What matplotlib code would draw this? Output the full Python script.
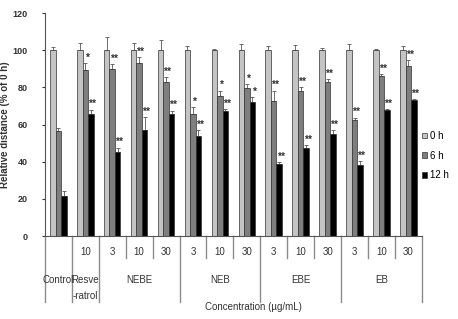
"""Relative wound distance bar chart (0 h / 6 h / 12 h)."""

import matplotlib

matplotlib.use("Agg")
import matplotlib.pyplot as plt
import matplotlib.transforms as mtransforms
import numpy as np
from matplotlib.patches import Patch

# groups, left to right
CONCS = ["", "10", "3", "10", "30", "3", "10", "30", "3", "10", "30", "3", "10", "30"]
TREATMENTS = ["Control", "Resve\n-ratrol", "NEBE", "NEB", "EBE", "EB"]
TREATMENT_SPAN = [(0, 0), (1, 1), (2, 4), (5, 7), (8, 10), (11, 13)]

VAL_0H = [100, 100, 100, 100, 100, 100, 100, 100, 100, 100, 100, 100, 100, 100]
ERR_0H = [1.5, 3.8, 7.0, 4.0, 5.5, 2.5, 0.5, 3.2, 2.2, 3.0, 1.0, 3.6, 0.5, 2.3]
VAL_6H = [56.4, 89.6, 89.8, 93.4, 82.7, 65.7, 75.5, 79.5, 72.9, 78.2, 82.7, 62.7, 86.3, 91.6]
ERR_6H = [1.8, 3.3, 2.7, 3.0, 2.7, 3.6, 2.7, 2.3, 5.3, 1.8, 1.8, 0.9, 0.8, 3.0]
VAL_12H = [21.4, 65.5, 45.2, 57.1, 65.7, 53.6, 67.5, 72.0, 38.6, 47.5, 55.0, 38.0, 67.9, 73.2]
ERR_12H = [2.9, 2.4, 2.3, 7.0, 1.8, 3.5, 0.9, 2.6, 1.2, 1.3, 2.1, 2.4, 0.5, 0.6]
SIG_6H = ["", "*", "**", "**", "**", "*", "*", "*", "**", "**", "**", "**", "**", "**"]
SIG_12H = ["", "**", "**", "**", "**", "**", "**", "*", "**", "**", "**", "**", "**", "**"]

SERIES = ["0 h", "6 h", "12 h"]
COLORS = ["#c4c4c4", "#7e7e7e", "#000000"]

plt.rcParams["font.family"] = ["Liberation Sans", "DejaVu Sans"]

fig = plt.figure(figsize=(4.58, 3.19), dpi=100)
ax = fig.add_axes([0.098, 0.26, 0.823, 0.699])

x = np.arange(len(CONCS))
width = 0.205
vals = [VAL_0H, VAL_6H, VAL_12H]
errs = [ERR_0H, ERR_6H, ERR_12H]
for k, (v, e, c) in enumerate(zip(vals, errs, COLORS)):
    xs = x + (k - 1) * width
    ax.bar(xs, v, width=width, color=c, edgecolor="#333333", linewidth=0.5, zorder=2)
    ax.errorbar(xs, v, yerr=[np.zeros(len(e)), e], fmt="none", ecolor="#555555",
                elinewidth=0.6, capsize=1.5, capthick=0.6, zorder=1)

for k, sig, v, e in [(1, SIG_6H, VAL_6H, ERR_6H), (2, SIG_12H, VAL_12H, ERR_12H)]:
    for i, s in enumerate(sig):
        if s:
            ax.text(x[i] + (k - 1) * width + 0.05, v[i] + e[i] + 3.0, s, ha="center",
                    va="center", fontsize=7.5, fontweight="bold", color="#333333")

ax.set_xlim(-0.5, len(CONCS) - 0.5)
ax.set_ylim(0, 120)
ax.set_yticks(np.arange(0, 121, 20))
ax.set_xticks([])
ax.tick_params(axis="y", length=2.5, width=0.8, labelsize=6.5, pad=10, colors="#333333")
for lab in ax.get_yticklabels():
    lab.set_fontweight("bold")
ax.spines["top"].set_visible(False)
ax.spines["right"].set_visible(False)
ax.spines["left"].set_color("#555555")
ax.spines["bottom"].set_color("#555555")
ax.set_ylabel("Relative distance (% of 0 h)", fontsize=7, fontweight="bold",
              color="#333333", labelpad=2)

# table under the axis
trans = mtransforms.blended_transform_factory(ax.transData, ax.transAxes)
line_kw = dict(color="#8c8c8c", lw=1.0, transform=trans, clip_on=False)
for lo, hi in TREATMENT_SPAN:
    ax.plot([lo - 0.5, lo - 0.5], [0, -0.296], **line_kw)
    for b in range(lo, hi):
        ax.plot([b + 0.5, b + 0.5], [0, -0.099], **line_kw)
ax.plot([len(CONCS) - 0.5] * 2, [0, -0.296], **line_kw)

for i, c in enumerate(CONCS):
    ax.text(x[i], -0.072, c, transform=trans, ha="center", va="center", fontsize=7,
            color="#333333")
for name, (lo, hi) in zip(TREATMENTS, TREATMENT_SPAN):
    ax.text((lo + hi) / 2, -0.175, name, transform=trans, ha="center", va="top",
            fontsize=7, color="#333333", linespacing=1.7)

fig.text(0.553, 0.022, "Concentration (\u00b5g/mL)", ha="center", va="bottom",
         fontsize=7, color="#333333")

handles = [Patch(facecolor=c, edgecolor="#333333", linewidth=0.5) for c in COLORS]
fig.legend(handles, SERIES, loc="upper left", bbox_to_anchor=(0.922, 0.59), frameon=False,
           fontsize=7, handlelength=0.5, handleheight=0.5, handletextpad=0.25,
           labelspacing=1.0, borderpad=0, borderaxespad=0)

fig.savefig("out.png", dpi=100)
